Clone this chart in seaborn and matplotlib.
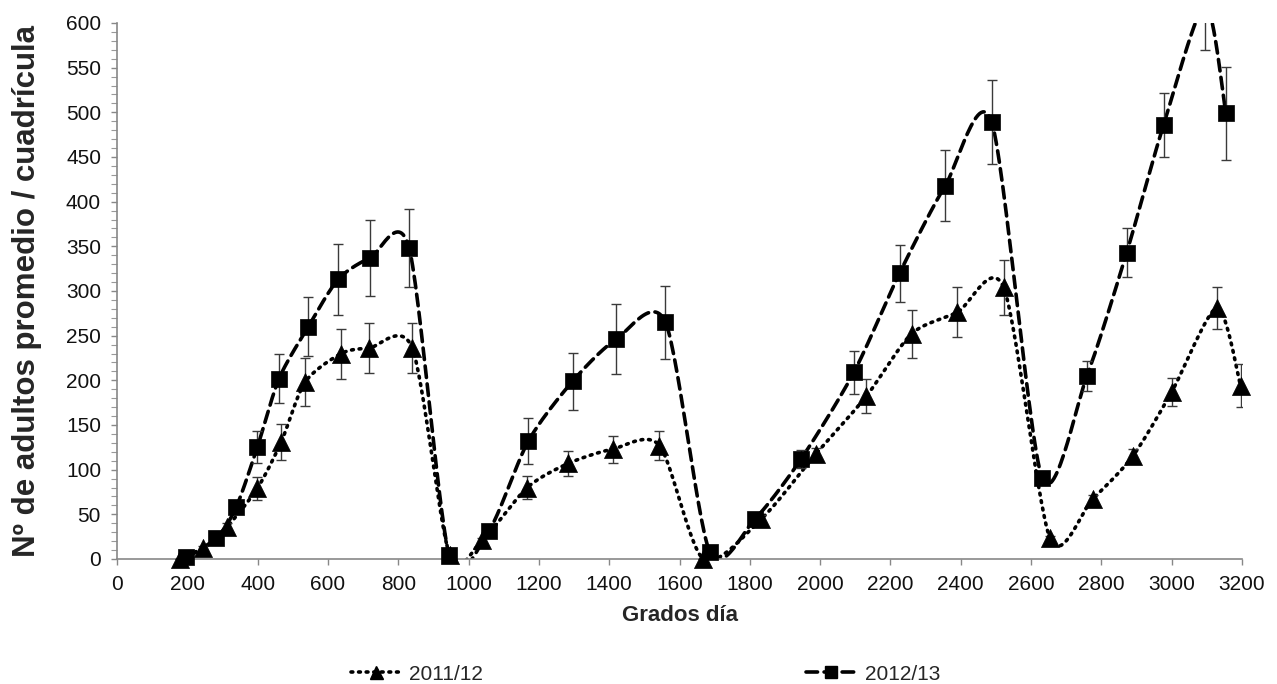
import numpy as np
import pandas as pd
import matplotlib
matplotlib.use("Agg")
import matplotlib.pyplot as plt
from matplotlib.lines import Line2D
from matplotlib.patches import Rectangle
from matplotlib.ticker import MultipleLocator
import seaborn as sns

# ---- data ----
x_2011 = [180, 245, 313, 399, 467, 535, 638, 717, 840, 946, 1039, 1167, 1284, 1410,
          1543, 1668, 1833, 1989, 2131, 2260, 2390, 2522, 2654, 2775, 2889, 3000, 3129, 3196]
y_2011 = [0, 12, 36, 79, 131, 198, 230, 236, 236, 4, 21, 80, 107, 123,
          127, 0, 45, 118, 182, 252, 276, 304, 23, 67, 115, 187, 281, 194]
e_2011 = [0, 2, 4, 13, 20, 27, 28, 28, 28, 0, 3, 13, 14, 15,
          16, 0, 4, 6, 19, 27, 28, 31, 3, 5, 8, 16, 24, 24]

x_2012 = [196, 282, 339, 399, 461, 544, 629, 720, 831, 945, 1057, 1170, 1296, 1420,
          1560, 1686, 1815, 1946, 2096, 2226, 2356, 2488, 2631, 2759, 2872, 2977, 3095, 3154]
y_2012 = [2, 23, 58, 125, 202, 260, 313, 337, 348, 4, 31, 132, 199, 246,
          265, 8, 45, 112, 209, 320, 418, 489, 91, 205, 343, 486, 620, 499]
e_2012 = [1, 3, 5, 18, 27, 33, 40, 43, 44, 2, 4, 26, 32, 39,
          41, 3, 5, 10, 24, 32, 40, 47, 5, 17, 27, 36, 50, 52]

series_labels = ["2011/12", "2012/13"]
x_label = "Grados día"
y_label = "Nº de adultos promedio / cuadrícula"


def smooth(xs, ys, tension=1 / 7.5, n=30):
    """Bezier smoothing through the points (like a spreadsheet 'smoothed line')."""
    P = np.column_stack([xs, ys]).astype(float)
    out = []
    m = len(P)
    for i in range(m - 1):
        p0 = P[i - 1] if i > 0 else P[i]
        p1 = P[i]
        p2 = P[i + 1]
        p3 = P[i + 2] if i + 2 < m else P[i + 1]
        c1 = p1 + (p2 - p0) * tension
        c2 = p2 - (p3 - p1) * tension
        t = np.linspace(0, 1, n)[:, None]
        seg = ((1 - t) ** 3) * p1 + 3 * ((1 - t) ** 2) * t * c1 + 3 * (1 - t) * t ** 2 * c2 + t ** 3 * p2
        out.append(seg if i == 0 else seg[1:])
    S = np.vstack(out)
    return S[:, 0], S[:, 1]


sns.set_style("white")
plt.rcParams["font.family"] = ["Liberation Sans", "DejaVu Sans"]

fig = plt.figure(figsize=(12.77, 6.84), dpi=100)
ax = fig.add_axes([117 / 1277, 1 - 559 / 684, (1242 - 117) / 1277, (559 - 23) / 684])

# markers may spill past the left/right/bottom edges, but not above 600
marker_clip = Rectangle((-0.03, -0.06), 1.06, 1.06, transform=ax.transAxes,
                        facecolor="none", edgecolor="none")

specs = [
    (x_2011, y_2011, e_2011, "^", (0, (0.5, 1.6)), 13),
    (x_2012, y_2012, e_2012, "s", (0, (3.2, 1.8)), 12),
]
handles = []
for (xs, ys, es, mk, ls, ms), lab in zip(specs, series_labels):
    sx, sy = smooth(xs, ys)
    sm = pd.DataFrame({"x": sx, "y": sy})
    sns.lineplot(data=sm, x="x", y="y", sort=False, ax=ax, color="black",
                 linewidth=2.6, linestyle=ls, dash_capstyle="round", estimator=None)
    ax.errorbar(xs, ys, yerr=es, fmt="none", ecolor="#3a3a3a", elinewidth=1.0,
                capsize=3.6, capthick=1.0, zorder=3)
    pts = pd.DataFrame({"x": xs, "y": ys})
    sns.scatterplot(data=pts, x="x", y="y", marker=mk, s=ms ** 2, color="black",
                    edgecolor="black", linewidth=0.5, ax=ax, zorder=4)
    ax.collections[-1].set_clip_path(marker_clip)
    handles.append(Line2D([0], [0], color="black", linestyle=ls, linewidth=2.6,
                          marker=mk, markersize=ms * 0.72, dash_capstyle="round"))

ax.set_xlim(0, 3200)
ax.set_ylim(0, 600)
ax.xaxis.set_major_locator(MultipleLocator(200))
ax.yaxis.set_major_locator(MultipleLocator(50))
ax.yaxis.set_minor_locator(MultipleLocator(10))
ax.tick_params(axis="both", which="major", direction="out", length=4.5, width=1,
               color="#888888", labelsize=15, labelcolor="#111111", pad=7)
ax.tick_params(axis="y", which="minor", direction="out", length=4, width=0.8,
               color="#999999", left=True)
ax.tick_params(axis="x", which="major", bottom=True)
ax.tick_params(axis="y", which="major", left=True)

for side in ["top", "right"]:
    ax.spines[side].set_visible(False)
for side in ["left", "bottom"]:
    ax.spines[side].set_color("#888888")
    ax.spines[side].set_linewidth(1.2)

ax.set_xlabel(x_label, fontsize=16, fontweight="bold", labelpad=8)
ax.set_ylabel(y_label, fontsize=22.5, fontweight="bold", labelpad=17)

fig.legend(handles, series_labels, loc="center", bbox_to_anchor=(0.5055, 0.0146),
           borderaxespad=0, borderpad=0, ncol=2, frameon=False, fontsize=15,
           handlelength=2.4, handletextpad=0.4, columnspacing=15.5)

fig.savefig("out.png", dpi=100)
